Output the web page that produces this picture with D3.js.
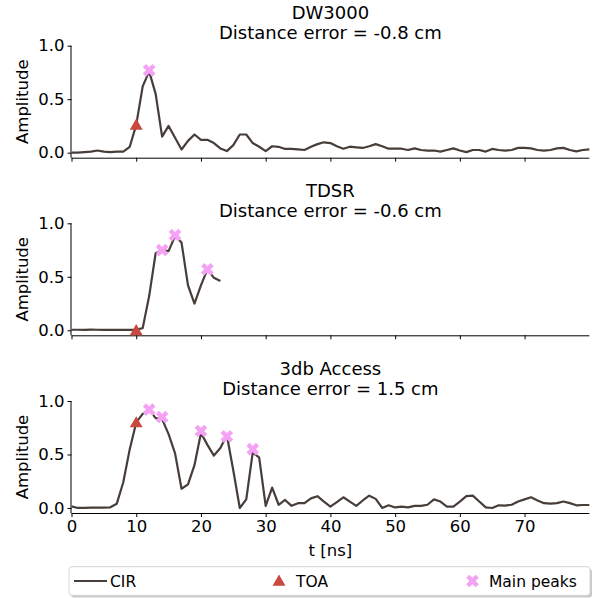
<!DOCTYPE html>
<html>
<head>
<meta charset="utf-8">
<script src="https://cdn.jsdelivr.net/npm/d3@7"></script>
<style>
  body { margin: 0; background: #fff; }
  svg { display: block; font-family: "DejaVu Sans", sans-serif; }
</style>
</head>
<body>
<svg id="chart" width="603" height="598"></svg>
<script>
// CIR amplitudes, one sample per ns starting at t = 0
var dwCir = [0.0, 0.0, 0.005, 0.01, 0.02, 0.01, 0.005, 0.01, 0.01, 0.055,
  0.26, 0.62, 0.76, 0.55, 0.15, 0.25, 0.14, 0.03, 0.11, 0.17,
  0.12, 0.12, 0.09, 0.04, 0.015, 0.07, 0.17, 0.17, 0.09, 0.055,
  0.015, 0.06, 0.055, 0.035, 0.035, 0.03, 0.025, 0.055, 0.08, 0.097,
  0.09, 0.06, 0.037, 0.056, 0.05, 0.044, 0.06, 0.08, 0.06, 0.037,
  0.037, 0.037, 0.025, 0.04, 0.025, 0.02, 0.02, 0.01, 0.025, 0.04,
  0.02, 0.005, 0.025, 0.025, 0.01, 0.035, 0.025, 0.02, 0.025, 0.045,
  0.045, 0.04, 0.025, 0.02, 0.025, 0.04, 0.045, 0.025, 0.012, 0.025, 0.03];
var tdsrCir = [0.005, 0.005, 0.004, 0.006, 0.005, 0.004, 0.003, 0.004, 0.005, 0.004,
  0.005, 0.02, 0.32, 0.72, 0.75, 0.74, 0.88, 0.82, 0.42, 0.25,
  0.42, 0.57, 0.49, 0.46];
var accCir = [0.015, 0.0, 0.0, 0.003, 0.003, 0.003, 0.006, 0.04, 0.24, 0.55,
  0.80, 0.88, 0.92, 0.84, 0.83, 0.69, 0.51, 0.18, 0.22, 0.40,
  0.70, 0.59, 0.49, 0.56, 0.68, 0.35, 0.0, 0.08, 0.52, 0.47,
  0.02, 0.19, 0.03, 0.075, 0.02, 0.045, 0.045, 0.09, 0.11, 0.06,
  0.012, 0.055, 0.1, 0.06, 0.02, 0.07, 0.115, 0.085, 0.0, 0.025,
  0.005, 0.012, 0.005, 0.02, 0.02, 0.03, 0.08, 0.06, 0.012, 0.012,
  0.06, 0.11, 0.115, 0.06, 0.005, 0.0, 0.025, 0.022, 0.03, 0.06,
  0.08, 0.1, 0.07, 0.045, 0.04, 0.045, 0.06, 0.045, 0.025, 0.028, 0.028];

var toaT = [10, 10, 10];
var toaA = [0.26, 0.0, 0.80];

var dwPeakT = [12], dwPeakA = [0.77];
var tdsrPeakT = [14, 16, 21], tdsrPeakA = [0.75, 0.89, 0.57];
var accPeakT = [12, 14, 20, 24, 28], accPeakA = [0.92, 0.85, 0.72, 0.67, 0.55];

var names = ["DW3000", "TDSR", "3db Access"];
var errors = ["-0.8", "-0.6", "1.5"];
var xTicks = [0, 10, 20, 30, 40, 50, 60, 70];
var yTicks = [0.0, 0.5, 1.0];

var colour = { cir: "#473d39", toa: "#c9483f", peak: "#f5a2f5" };

var svg = d3.select("#chart");

var x = d3.scaleLinear().domain([0, 80]).range([71.5, 589.3]);
var panelTops = [45.7, 223.3, 401];
var panelH = 112;

var cirs = [dwCir, tdsrCir, accCir];
var peaksT = [dwPeakT, tdsrPeakT, accPeakT];
var peaksA = [dwPeakA, tdsrPeakA, accPeakA];

// filled "X" like matplotlib's marker
var xMark = d3.symbol().type(d3.symbolCross).size(100);
var triMark = d3.symbol().type(d3.symbolTriangle).size(72);

function drawPanel(i) {
  var top = panelTops[i];
  var y = d3.scaleLinear().domain([-0.047, 1.0]).range([top + panelH, top]);
  var g = svg.append("g");

  // title
  var title = g.append("text")
    .attr("text-anchor", "middle")
    .attr("font-size", "18px")
    .attr("fill", "#000");
  title.append("tspan").attr("x", x(40)).attr("y", top - 26.4).text(names[i]);
  title.append("tspan").attr("x", x(40)).attr("y", top - 6.4)
    .text("Distance error = " + errors[i] + " cm");

  // axes
  var xAxis = d3.axisBottom(x).tickValues(xTicks).tickSize(4).tickPadding(3);
  if (i < 2) xAxis.tickFormat("");
  var xg = g.append("g").attr("transform", "translate(0," + (top + panelH) + ")").call(xAxis);
  var yAxis = d3.axisLeft(y).tickValues(yTicks).tickSize(4).tickPadding(3).tickFormat(d3.format(".1f"));
  var yg = g.append("g").attr("transform", "translate(" + x(0) + ",0)").call(yAxis);
  [xg, yg].forEach(function(a) {
    a.select(".domain").attr("stroke", "#000").attr("stroke-width", 1);
    a.selectAll(".tick line").attr("stroke", "#000").attr("stroke-width", 1);
    a.selectAll(".tick text").attr("font-size", "16.5px").attr("fill", "#000")
      .attr("font-family", "DejaVu Sans, sans-serif");
  });
  // matplotlib-like domain without end caps
  xg.select(".domain").attr("d", "M" + x(0) + ",0.5H" + x(80));
  yg.select(".domain").attr("d", "M-0.5," + (top + panelH) + "V" + top);

  g.append("text")
    .attr("transform", "translate(22," + (top + panelH / 2) + ") rotate(-90)")
    .attr("text-anchor", "middle")
    .attr("dy", "0.35em")
    .attr("font-size", "16.5px")
    .text("Amplitude");

  // CIR line
  var line = d3.line().x(function(d, k) { return x(k); }).y(function(d) { return y(d); });
  g.append("path")
    .datum(cirs[i])
    .attr("d", line)
    .attr("fill", "none")
    .attr("stroke", colour.cir)
    .attr("stroke-width", 2.2)
    .attr("stroke-linejoin", "round");

  // TOA marker
  g.append("path")
    .attr("d", triMark)
    .attr("transform", "translate(" + x(toaT[i]) + "," + (y(toaA[i]) + 1.2) + ")")
    .attr("fill", colour.toa);

  // main peaks
  g.selectAll(".peak")
    .data(peaksT[i])
    .enter().append("path")
    .attr("d", xMark)
    .attr("transform", function(d, k) {
      return "translate(" + x(d) + "," + y(peaksA[i][k]) + ") rotate(45)";
    })
    .attr("fill", colour.peak);

  if (i == 2) {
    g.append("text")
      .attr("x", x(40))
      .attr("y", top + panelH + 43)
      .attr("text-anchor", "middle")
      .attr("font-size", "16.5px")
      .text("t [ns]");
  }
}

for (var i = 0; i < 3; i++) drawPanel(i);

// legend
var lg = svg.append("g");
lg.append("rect")
  .attr("x", 71).attr("y", 569).attr("width", 521).attr("height", 28.6)
  .attr("rx", 3).attr("fill", "#bbb").attr("opacity", 0.8);
lg.append("rect")
  .attr("x", 69).attr("y", 566.7).attr("width", 521).attr("height", 28.6)
  .attr("rx", 3).attr("fill", "#fff").attr("stroke", "#d6d6d6").attr("stroke-width", 1);
var ly = 581;
lg.append("line")
  .attr("x1", 74).attr("x2", 107).attr("y1", ly).attr("y2", ly)
  .attr("stroke", colour.cir).attr("stroke-width", 2.2);
lg.append("text").attr("x", 110).attr("y", ly).attr("dy", "0.36em")
  .attr("font-size", "15.5px").text("CIR");
lg.append("path").attr("d", triMark)
  .attr("transform", "translate(279," + (ly + 1) + ")").attr("fill", colour.toa);
lg.append("text").attr("x", 296).attr("y", ly).attr("dy", "0.36em")
  .attr("font-size", "15.5px").text("TOA");
lg.append("path").attr("d", xMark)
  .attr("transform", "translate(472.5," + ly + ") rotate(45)").attr("fill", colour.peak);
lg.append("text").attr("x", 489).attr("y", ly).attr("dy", "0.36em")
  .attr("font-size", "15.5px").text("Main peaks");
</script>
</body>
</html>
